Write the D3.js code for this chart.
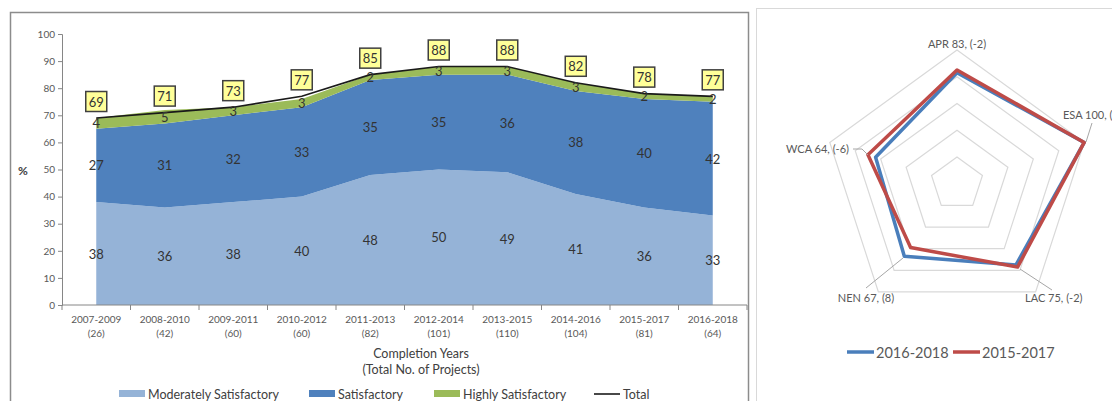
<!DOCTYPE html>
<html><head><meta charset="utf-8">
<script src="https://cdn.jsdelivr.net/npm/d3@7"></script>
<style>
html,body{margin:0;padding:0;background:#fff;}
svg{display:block;font-family:Lato,"Open Sans",sans-serif;}
</style></head>
<body>
<svg id="c" width="1112" height="401"></svg>
<script>
const categories = ["2007-2009","2008-2010","2009-2011","2010-2012","2011-2013","2012-2014","2013-2015","2014-2016","2015-2017","2016-2018"];
const projectCounts = ["(26)","(42)","(60)","(60)","(82)","(101)","(110)","(104)","(81)","(64)"];
const moderatelySatisfactory = [38,36,38,40,48,50,49,41,36,33];
const satisfactory = [27,31,32,33,35,35,36,38,40,42];
const highlySatisfactory = [4,5,3,3,2,3,3,3,2,2];
const totals = [69,71,73,77,85,88,88,82,78,77];
const yTicks = [0,10,20,30,40,50,60,70,80,90,100];

const regions = ["APR","ESA","LAC","NEN","WCA"];
const series2016 = [83,100,75,67,64];
const series2015 = [85,100,77,59,70];
const regionLabels = ["APR 83, (-2)","ESA 100, (0)","LAC 75, (-2)","NEN 67, (8)","WCA 64, (-6)"];
const radarLevels = [20,40,60,80,100];

const svg = d3.select("#c");

// ---------- Left chart ----------
svg.append("rect").attr("x",10.5).attr("y",12.5).attr("width",738).attr("height",420)
  .attr("fill","#fff").attr("stroke","#8c8c8c").attr("stroke-width",1.5);

const x = d3.scaleBand().domain(categories).range([62,747]);
const cx = c => x(c) + x.bandwidth()/2;
const y = d3.scaleLinear().domain([0,100]).range([305,34]);

const rows = categories.map((c,i)=>({c, ms:moderatelySatisfactory[i], s:satisfactory[i], hs:highlySatisfactory[i], t:totals[i]}));
const keys = ["ms","s","hs"];
const colors = {ms:"#95b3d7", s:"#4f81bd", hs:"#9bbb59"};
const stacked = d3.stack().keys(keys)(rows);
const area = d3.area().x(d=>cx(d.data.c)).y0(d=>y(d[0])).y1(d=>y(d[1]));
svg.append("g").selectAll("path").data(stacked).join("path")
  .attr("d",area).attr("fill",d=>colors[d.key]);

// total line
svg.append("path").datum(rows)
  .attr("d", d3.line().x(d=>cx(d.c)).y(d=>y(d.t)))
  .attr("fill","none").attr("stroke","#1a1a1a").attr("stroke-width",1.6);

// axes
const yAxis = d3.axisLeft(y).tickValues(yTicks).tickSize(4).tickPadding(3);
const gy = svg.append("g").attr("transform","translate(62,0)").call(yAxis);
gy.select(".domain").attr("stroke","#868686");
gy.selectAll(".tick line").attr("stroke","#868686");
gy.selectAll("text").attr("fill","#595959").style("font-size","10px").style("font-family","Lato,sans-serif");

const gx = svg.append("g").attr("transform","translate(0,305)");
gx.append("line").attr("x1",62).attr("x2",747).attr("stroke","#868686");
const bounds = categories.map(c=>x(c)).concat([747]);
gx.selectAll("line.t").data(bounds).join("line").attr("class","t")
  .attr("x1",d=>d).attr("x2",d=>d).attr("y1",0).attr("y2",5).attr("stroke","#868686");
const xl = gx.selectAll("text.xl").data(categories).join("text").attr("class","xl")
  .attr("x",d=>cx(d)).attr("text-anchor","middle").attr("fill","#595959").style("font-size","10px");
xl.append("tspan").attr("x",d=>cx(d)).attr("y",18).text(d=>d);
xl.append("tspan").attr("x",d=>cx(d)).attr("y",32).text((d,i)=>projectCounts[i]);

svg.append("text").attr("x",421).attr("y",358).attr("text-anchor","middle").attr("fill","#404040").style("font-size","12.5px").text("Completion Years");
svg.append("text").attr("x",421).attr("y",374).attr("text-anchor","middle").attr("fill","#404040").style("font-size","12.5px").text("(Total No. of Projects)");
svg.append("text").attr("x",23).attr("y",175).attr("text-anchor","middle").attr("fill","#404040").style("font-size","12px").style("font-weight","bold").text("%");

// value labels
const lblStyle = sel => sel.attr("text-anchor","middle").attr("fill","#333").style("font-size","13px");
stacked.forEach(layer=>{
  svg.append("g").selectAll("text").data(layer).join("text")
    .attr("x",d=>cx(d.data.c)).attr("y",d=>y((d[0]+d[1])/2)+5)
    .text(d=>d.data[layer.key]).call(lblStyle);
});

// total boxes
const tb = svg.append("g").selectAll("g").data(rows).join("g")
  .attr("transform",d=>`translate(${cx(d.c)},${y(d.t)-16.5})`);
tb.append("rect").attr("x",-10.5).attr("y",-10).attr("width",21).attr("height",20)
  .attr("fill","#ffff99").attr("stroke","#404040").attr("stroke-width",1.5);
tb.append("text").attr("y",5).text(d=>d.t).call(lblStyle);

// legend
const leg = svg.append("g").style("font-size","12.5px");
const legItems = [
  {t:"Moderately Satisfactory", c:colors.ms, x:119, type:"rect"},
  {t:"Satisfactory", c:colors.s, x:309, type:"rect"},
  {t:"Highly Satisfactory", c:colors.hs, x:434, type:"rect"},
  {t:"Total", c:"#1a1a1a", x:594, type:"line"}
];
legItems.forEach(it=>{
  if(it.type==="rect") leg.append("rect").attr("x",it.x).attr("y",390).attr("width",26).attr("height",7).attr("fill",it.c);
  else leg.append("line").attr("x1",it.x).attr("x2",it.x+26).attr("y1",394).attr("y2",394).attr("stroke",it.c).attr("stroke-width",1.6);
  leg.append("text").attr("x",it.x+29).attr("y",399).attr("fill","#404040").text(it.t);
});

// ---------- Right radar ----------
svg.append("rect").attr("x",756.5).attr("y",8.5).attr("width",400).attr("height",420)
  .attr("fill","#fff").attr("stroke","#d9d9d9").attr("stroke-width",1);

const rcx = 957, rcy = 183.75, R = 133.75;
const r = d3.scaleLinear().domain([0,100]).range([0,R]);
const ang = i => -Math.PI/2 + i*2*Math.PI/regions.length;
const pt = (i,v) => [rcx + r(v)*Math.cos(ang(i)), rcy + r(v)*Math.sin(ang(i))];

const rg = svg.append("g");
rg.selectAll("path.ring").data(radarLevels).join("path").attr("class","ring")
  .attr("d",lv=>d3.line()(regions.map((_,i)=>pt(i,lv)))+"Z")
  .attr("fill","none").attr("stroke","#d9d9d9").attr("stroke-width",1.2);

const radarLine = vals => d3.line()(vals.map((v,i)=>pt(i,v)))+"Z";
rg.append("path").attr("d",radarLine(series2016)).attr("fill","none").attr("stroke","#4a7ebb").attr("stroke-width",3.5).attr("stroke-linejoin","round");
rg.append("path").attr("d",radarLine(series2015)).attr("fill","none").attr("stroke","#be4b48").attr("stroke-width",3.5).attr("stroke-linejoin","round");

// leader lines & labels
const lab = [
  {i:0, x:957, y:48, anchor:"middle", lead:null},
  {i:1, x:1063, y:119, anchor:"start", lead:[[1092,123],[1086,142]]},
  {i:2, x:1025, y:302, anchor:"start", lead:[[1052,290],[1020,269]]},
  {i:3, x:866, y:302, anchor:"middle", lead:[[866,288],[903,258]]},
  {i:4, x:849, y:153, anchor:"end", lead:[[853,149],[862,149],[868,155]]}
];
lab.forEach(l=>{
  if(l.lead) rg.append("path").attr("d",d3.line()(l.lead)).attr("fill","none").attr("stroke","#a6a6a6").attr("stroke-width",1);
  rg.append("text").attr("x",l.x).attr("y",l.y).attr("text-anchor",l.anchor)
    .attr("fill","#595959").style("font-size","11px").text(regionLabels[l.i]);
});

// radar legend
const rl = svg.append("g").style("font-size","14.5px");
[{t:"2016-2018",c:"#4a7ebb",x:847},{t:"2015-2017",c:"#be4b48",x:953}].forEach(it=>{
  rl.append("line").attr("x1",it.x).attr("x2",it.x+27).attr("y1",352).attr("y2",352).attr("stroke",it.c).attr("stroke-width",3.5);
  rl.append("text").attr("x",it.x+29).attr("y",357.5).attr("fill","#595959").text(it.t);
});
</script>
</body></html>
